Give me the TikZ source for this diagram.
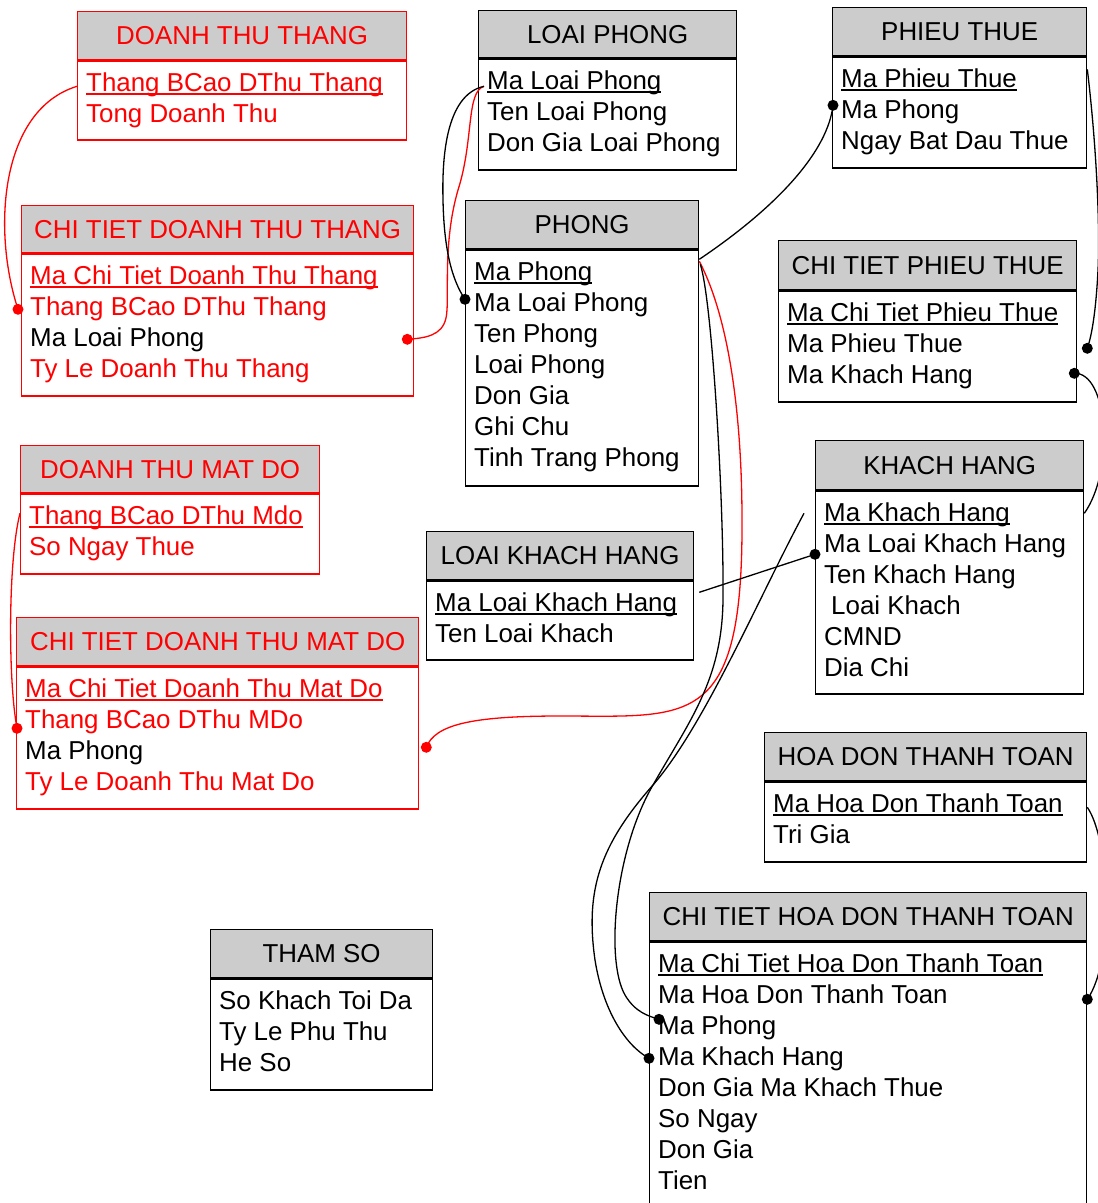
\documentclass[tikz,border=0pt]{standalone}
\usepackage{fontspec}
\setmainfont{Liberation Sans}
\usetikzlibrary{calc}

\definecolor{hdrgray}{HTML}{CCCCCC}
\definecolor{erred}{HTML}{FF0000}

% text size used throughout the schema
\newcommand{\fsz}{\fontsize{25.9pt}{31pt}\selectfont}

% primary-key field: underline drawn just below the baseline
\newsavebox{\ulbox}
\newcommand{\keyfield}[1]{\sbox{\ulbox}{#1}\rlap{\rule[-3pt]{\wd\ulbox}{1.4pt}}\usebox{\ulbox}}

\tikzset{
  ent/.style={draw, line width=1.3pt, inner sep=0pt},
  hdr/.style={ent, fill=hdrgray, anchor=north west, font=\fsz},
  bdy/.style={ent, fill=white, anchor=north west},
  fld/.style={inner sep=0pt, anchor=base west, font=\fsz},
  link/.style={line width=1.3pt, black},
  rlink/.style={line width=1.3pt, erred},
  bdot/.style={circle, fill=black, inner sep=0pt, minimum size=11pt},
  rdot/.style={circle, fill=erred, inner sep=0pt, minimum size=11pt},
}

% table: name, left x, top y, width, header height, body height, colour, title
\newcommand{\entity}[8]{%
  \node[hdr, draw=#7, text=#7, minimum width=#4pt, minimum height=#5pt] (#1) at (#2,-#3) {#8};
  \node[bdy, draw=#7, minimum width=#4pt, minimum height=#6pt] (#1b) at (#1.south west) {};
}
% field row: name, table, row number, colour, text
\newcommand{\field}[5]{%
  \node[fld, text=#4] (#1) at ($(#2b.north west)+(9,{-31.5-31*(#3-1)})$) {#5};
}

\begin{document}
\begin{tikzpicture}[x=1pt, y=1pt]
\useasboundingbox (0,0) rectangle (1098,-1203);
\clip (0,0) rectangle (1098,-1203);

% ---------------- tables ----------------
\entity{dtt}{77}{11}{329}{48}{79}{erred}{DOANH THU THANG}
\field{dtt1}{dtt}{1}{erred}{\keyfield{Thang BCao DThu Thang}}
\field{dtt2}{dtt}{2}{erred}{Tong Doanh Thu}

\entity{lp}{478}{10}{258}{47}{111}{black}{LOAI PHONG}
\field{lp1}{lp}{1}{black}{\keyfield{Ma Loai Phong}}
\field{lp2}{lp}{2}{black}{Ten Loai Phong}
\field{lp3}{lp}{3}{black}{Don Gia Loai Phong}

\entity{pt}{832}{7}{254}{48}{111}{black}{PHIEU THUE}
\field{pt1}{pt}{1}{black}{\keyfield{Ma Phieu Thue}}
\field{pt2}{pt}{2}{black}{Ma Phong}
\field{pt3}{pt}{3}{black}{Ngay Bat Dau Thue}

\entity{ctdtt}{21}{205}{392}{47}{142}{erred}{CHI TIET DOANH THU THANG}
\field{ctdtt1}{ctdtt}{1}{erred}{\keyfield{Ma Chi Tiet Doanh Thu Thang}}
\field{ctdtt2}{ctdtt}{2}{erred}{Thang BCao DThu Thang}
\field{ctdtt3}{ctdtt}{3}{black}{Ma Loai Phong}
\field{ctdtt4}{ctdtt}{4}{erred}{Ty Le Doanh Thu Thang}

\entity{phong}{465}{200}{233}{48}{236}{black}{PHONG}
\field{phong1}{phong}{1}{black}{\keyfield{Ma Phong}}
\field{phong2}{phong}{2}{black}{Ma Loai Phong}
\field{phong3}{phong}{3}{black}{Ten Phong}
\field{phong4}{phong}{4}{black}{Loai Phong}
\field{phong5}{phong}{5}{black}{Don Gia}
\field{phong6}{phong}{6}{black}{Ghi Chu}
\field{phong7}{phong}{7}{black}{Tinh Trang Phong}

\entity{ctpt}{778}{240}{298}{49}{111}{black}{CHI TIET PHIEU THUE}
\field{ctpt1}{ctpt}{1}{black}{\keyfield{Ma Chi Tiet Phieu Thue}}
\field{ctpt2}{ctpt}{2}{black}{Ma Phieu Thue}
\field{ctpt3}{ctpt}{3}{black}{Ma Khach Hang}

\entity{kh}{815}{440}{268}{49}{203}{black}{KHACH HANG}
\field{kh1}{kh}{1}{black}{\keyfield{Ma Khach Hang}}
\field{kh2}{kh}{2}{black}{Ma Loai Khach Hang}
\field{kh3}{kh}{3}{black}{Ten Khach Hang}
\field{kh4}{kh}{4}{black}{\kern7pt Loai Khach}
\field{kh5}{kh}{5}{black}{CMND}
\field{kh6}{kh}{6}{black}{Dia Chi}

\entity{dtmd}{20}{445}{299}{47}{80}{erred}{DOANH THU MAT DO}
\field{dtmd1}{dtmd}{1}{erred}{\keyfield{Thang BCao DThu Mdo}}
\field{dtmd2}{dtmd}{2}{erred}{So Ngay Thue}

\entity{lkh}{426}{531}{267}{48}{79}{black}{LOAI KHACH HANG}
\field{lkh1}{lkh}{1}{black}{\keyfield{Ma Loai Khach Hang}}
\field{lkh2}{lkh}{2}{black}{Ten Loai Khach}

\entity{ctdtmd}{16}{617}{402}{48}{142}{erred}{CHI TIET DOANH THU MAT DO}
\field{ctdtmd1}{ctdtmd}{1}{erred}{\keyfield{Ma Chi Tiet Doanh Thu Mat Do}}
\field{ctdtmd2}{ctdtmd}{2}{erred}{Thang BCao DThu MDo}
\field{ctdtmd3}{ctdtmd}{3}{black}{Ma Phong}
\field{ctdtmd4}{ctdtmd}{4}{erred}{Ty Le Doanh Thu Mat Do}

\entity{hdtt}{764}{732}{322}{48}{80}{black}{HOA DON THANH TOAN}
\field{hdtt1}{hdtt}{1}{black}{\keyfield{Ma Hoa Don Thanh Toan}}
\field{hdtt2}{hdtt}{2}{black}{Tri Gia}

\entity{ts}{210}{929}{222}{48}{111}{black}{THAM SO}
\field{ts1}{ts}{1}{black}{So Khach Toi Da}
\field{ts2}{ts}{2}{black}{Ty Le Phu Thu}
\field{ts3}{ts}{3}{black}{He So}

\entity{cthd}{649}{892}{437}{48}{300}{black}{CHI TIET HOA DON THANH TOAN}
\field{cthd1}{cthd}{1}{black}{\keyfield{Ma Chi Tiet Hoa Don Thanh Toan}}
\field{cthd2}{cthd}{2}{black}{Ma Hoa Don Thanh Toan}
\field{cthd3}{cthd}{3}{black}{Ma Phong}
\field{cthd4}{cthd}{4}{black}{Ma Khach Hang}
\field{cthd5}{cthd}{5}{black}{Don Gia Ma Khach Thue}
\field{cthd6}{cthd}{6}{black}{So Ngay}
\field{cthd7}{cthd}{7}{black}{Don Gia}
\field{cthd8}{cthd}{8}{black}{Tien}

% ---------------- connector end points ----------------
\coordinate (a1) at ($(dttb.north west)+(0,-26)$);
\coordinate (a2) at ($(ctdttb.north west)+(-3,-56)$);
\coordinate (b1) at ($(lpb.north west)+(6,-28)$);
\coordinate (b2) at ($(ctdttb.north east)+(-7,-86)$);
\coordinate (c2) at ($(phongb.north west)+(0,-50)$);
\coordinate (d1) at ($(phongb.north east)+(0,-10)$);
\coordinate (d2) at ($(ptb.north west)+(1,-49)$);
\coordinate (e1) at ($(phongb.north east)+(0,-12)$);
\coordinate (e2) at ($(ctdtmdb.north east)+(7,-81)$);
\coordinate (f1) at ($(phongb.north east)+(1,-15)$);
\coordinate (f2) at ($(cthdb.north west)+(10,-78)$);
\coordinate (g1) at ($(khb.north west)+(-11,-23)$);
\coordinate (g2) at ($(cthdb.north west)+(0,-117)$);
\coordinate (h1) at ($(lkhb.north east)+(5,-12)$);
\coordinate (h2) at ($(khb.north west)+(0,-64)$);
\coordinate (i1) at ($(ptb.north east)+(0,-13)$);
\coordinate (i2) at ($(ctptb.north east)+(10,-58)$);
\coordinate (j1) at ($(ctptb.north east)+(-3,-83)$);
\coordinate (j2) at ($(khb.north east)+(0,-23)$);
\coordinate (k1) at ($(hdttb.north east)+(0,-26)$);
\coordinate (k2) at ($(cthdb.north east)+(0,-58)$);
\coordinate (l1) at ($(dtmdb.north west)+(0,-20)$);
\coordinate (l2) at ($(ctdtmdb.north west)+(1,-62)$);

% ---------------- connectors ----------------
\draw[rlink] (a1) .. controls (0,-110) and (-8,-230) .. (a2);
\draw[rlink] (b1) .. controls (466,-92) and (474,-140) .. (458,-190)
                 .. controls (442,-245) and (450,-300) .. (446,-318)
                 .. controls (442,-336) and (425,-338) .. (b2);
\draw[link] (b1) .. controls (445,-95) and (442,-160) .. (443,-200)
                .. controls (444,-250) and (452,-280) .. (c2);
\draw[link] (d1) .. controls (780,-205) and (828,-150) .. (d2);
\draw[rlink] (e1) .. controls (730,-320) and (742,-420) .. (742,-520)
                 .. controls (743,-730) and (690,-716) .. (560,-716)
                 .. controls (470,-716) and (435,-725) .. (e2);
\draw[link] (f1) .. controls (712,-300) and (724,-500) .. (723,-600)
                .. controls (722,-680) and (690,-720) .. (653,-785)
                .. controls (615,-850) and (605,-960) .. (625,-995)
                .. controls (635,-1012) and (648,-1016) .. (f2);
\draw[link] (g1) .. controls (760,-595) and (705,-725) .. (653,-785)
                .. controls (600,-845) and (585,-890) .. (595,-960)
                .. controls (603,-1010) and (625,-1045) .. (g2);
\draw[link] (h1) -- (h2);
\draw[link] (i1) .. controls (1097,-150) and (1100,-230) .. (1098,-270)
                .. controls (1096,-310) and (1092,-335) .. (i2);
\draw[link] (j1) .. controls (1108,-372) and (1115,-470) .. (j2);
\draw[link] (k1) .. controls (1110,-840) and (1115,-960) .. (k2);
\draw[rlink] (l1) .. controls (8,-560) and (8,-680) .. (l2);

% ---------------- connector dots ----------------
\node[rdot] (da) at (a2) {};
\node[rdot] (db) at (b2) {};
\node[bdot] (dc) at (c2) {};
\node[bdot] (dd) at (d2) {};
\node[rdot] (de) at (e2) {};
\node[bdot] (df) at (f2) {};
\node[bdot] (dg) at (g2) {};
\node[bdot] (dh) at (h2) {};
\node[bdot] (di) at (i2) {};
\node[bdot] (dj) at (j1) {};
\node[bdot] (dk) at (k2) {};
\node[rdot] (dl) at (l2) {};
\end{tikzpicture}
\end{document}
